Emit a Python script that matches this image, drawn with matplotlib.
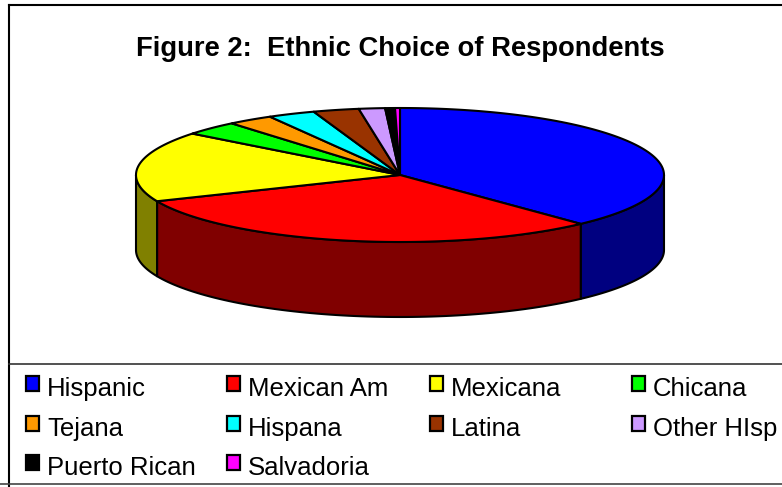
import numpy as np
import matplotlib.pyplot as plt
from matplotlib.patches import Polygon, Rectangle
from matplotlib.colors import to_rgb

# data (share of respondents, %)
labels = ['Hispanic', 'Mexican Am', 'Mexicana', 'Chicana', 'Tejana',
          'Hispana', 'Latina', 'Other HIsp', 'Puerto Rican', 'Salvadoria']
values = [38.0, 30.6, 17.0, 3.4, 2.8, 2.9, 2.8, 1.6, 0.6, 0.3]
colors = ['#0000FF', '#FF0000', '#FFFF00', '#00FF00', '#FF9900',
          '#00FFFF', '#993300', '#CC99FF', '#000000', '#FF00FF']
title = 'Figure 2:  Ethnic Choice of Respondents'

plt.rcParams['font.family'] = ['Liberation Sans', 'DejaVu Sans']

W, H = 782, 487
fig = plt.figure(figsize=(W / 100, H / 100), dpi=100)
ax = fig.add_axes([0, 0, 1, 1])
ax.set_xlim(0, W)
ax.set_ylim(H, 0)
ax.axis('off')

# pie geometry (pixels)
cx, cy, rx, ry, depth = 400, 175, 264, 67, 75

def pt(t, dy=0):
    t = np.radians(t)
    return np.column_stack([cx + rx * np.sin(t), cy - ry * np.cos(t) + dy])

frac = np.array(values) / np.sum(values)
bounds = np.concatenate([[0], np.cumsum(frac) * 360])

# side walls (front half only)
for i, c in enumerate(colors):
    a, b = max(bounds[i], 90), min(bounds[i + 1], 270)
    if b <= a:
        continue
    t = np.linspace(a, b, 80)
    poly = np.vstack([pt(t), pt(t[::-1], depth)])
    side = tuple(v * 0.5 for v in to_rgb(c))
    ax.add_patch(Polygon(poly, closed=True, fc=side, ec='black', lw=1.5,
                         joinstyle='round'))

# top surface
for i, c in enumerate(colors):
    t = np.linspace(bounds[i], bounds[i + 1], 120)
    poly = np.vstack([[cx, cy], pt(t)])
    ax.add_patch(Polygon(poly, closed=True, fc=c, ec='black', lw=1.5,
                         joinstyle='round'))

ax.text(400, 56, title, ha='center', va='baseline', fontsize=19.7,
        fontweight='bold')

# legend, filled row by row
col_x = [26, 227, 430, 632]
row_y = [396, 436, 475]
for i, (lab, c) in enumerate(zip(labels, colors)):
    x = col_x[i % 4]
    y = row_y[i // 4]
    ax.add_patch(Rectangle((x, y - 20), 13, 15, fc=c, ec='black', lw=1.6))
    ax.text(x + 21, y, lab, ha='left', va='baseline', fontsize=18.5)

# frame lines
ax.plot([9, W], [5, 5], color='black', lw=1.5)
ax.plot([9, 9], [5, H], color='black', lw=1.5)
ax.plot([9, W], [364, 364], color='#333333', lw=1.2)
ax.plot([0, W], [484, 484], color='#444444', lw=1.2)

fig.savefig('out.png', dpi=100)
